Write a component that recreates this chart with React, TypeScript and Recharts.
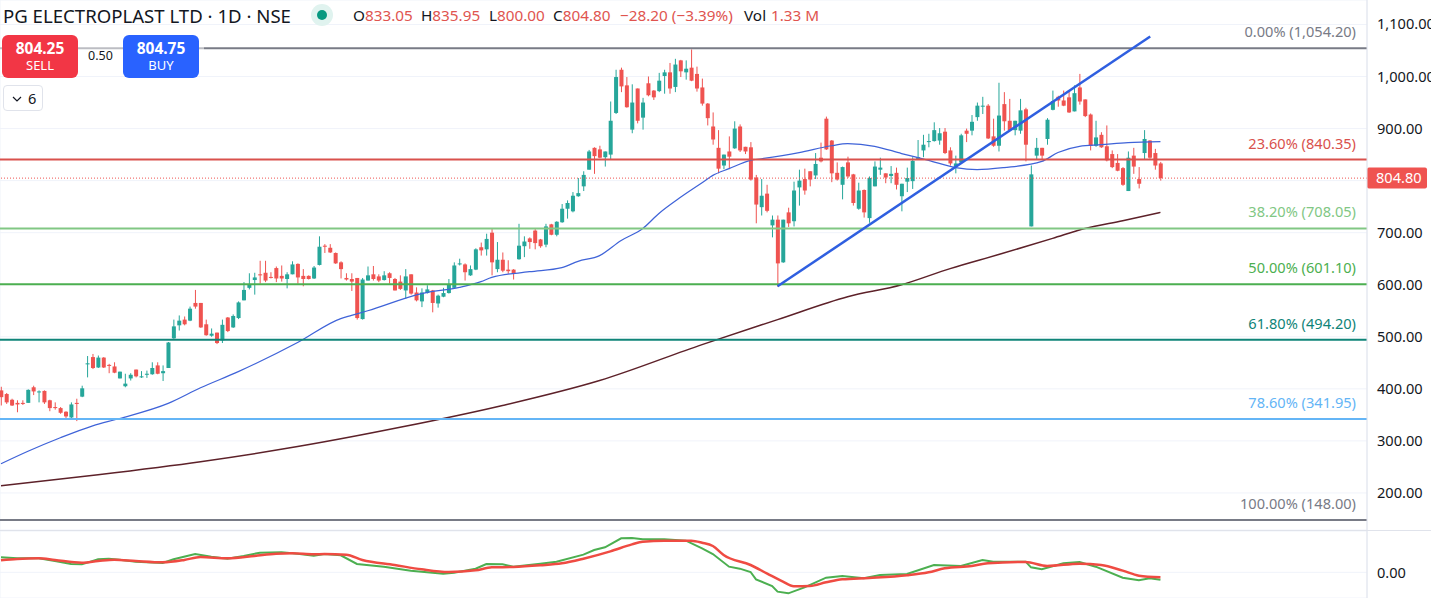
import { ComposedChart, Bar, Line, XAxis, YAxis, CartesianGrid, ReferenceLine } from 'recharts';

const opens = [
  397, 390, 379, 373, 373, 373, 403, 394, 396, 378,
  365, 363, 356, 345, 373, 385, 447, 461, 441, 460,
  446, 443, 420, 405, 420, 437, 422, 427, 428, 445,
  430, 440, 497, 522, 533, 531, 565, 565, 524, 502,
  508, 493, 537, 518, 536, 570, 594, 609, 620, 623,
  615, 632, 617, 611, 620, 640, 617, 617, 612, 638,
  675, 671, 661, 643, 613, 611, 613, 534, 608, 620,
  616, 609, 622, 611, 606, 589, 620, 585, 568, 584,
  589, 564, 577, 584, 594, 639, 639, 618, 629, 672,
  668, 700, 630, 648, 629, 629, 649, 674, 689, 704,
  687, 677, 716, 696, 720, 746, 741, 770, 789, 821,
  863, 860, 845, 850, 930, 1013, 983, 898, 977, 921,
  987, 973, 972, 1001, 1008, 980, 1031, 1008, 1017, 1005,
  979, 948, 904, 863, 829, 856, 862, 904, 865, 864,
  806, 749, 775, 714, 725, 643, 739, 722, 787, 803,
  818, 810, 844, 919, 877, 815, 792, 835, 812, 746,
  782, 728, 789, 821, 814, 809, 815, 770, 798, 799,
  841, 858, 874, 876, 877, 894, 858, 827, 835, 896,
  896, 922, 942, 944, 885, 867, 947, 915, 897, 896,
  937, 712, 848, 863, 880, 936, 961, 954, 960, 933,
  979, 956, 927, 867, 888, 866, 851, 834, 824, 780,
  848, 803, 853, 877, 853, 833.05,
];
const highs = [
  404, 392, 381, 378, 378, 399, 406, 397, 397, 379,
  374, 365, 357, 374, 381, 406, 463, 467, 464, 461,
  448, 451, 433, 429, 430, 437, 434, 435, 451, 451,
  445, 490, 533, 541, 539, 558, 590, 565, 533, 516,
  508, 533, 538, 543, 568, 605, 622, 623, 646, 646,
  624, 635, 637, 624, 645, 641, 630, 618, 636, 693,
  678, 678, 662, 645, 622, 622, 613, 613, 635, 636,
  620, 626, 624, 613, 618, 630, 620, 595, 593, 599,
  590, 581, 594, 611, 643, 650, 641, 637, 670, 681,
  698, 707, 682, 662, 647, 630, 717, 693, 691, 707,
  688, 717, 717, 722, 755, 762, 778, 805, 818, 859,
  864, 867, 856, 952, 1013, 1017, 999, 985, 977, 959,
  1000, 974, 1007, 1013, 1026, 1034, 1032, 1031, 1052, 1019,
  996, 949, 931, 897, 850, 885, 914, 908, 865, 874,
  811, 803, 792, 733, 733, 725, 748, 798, 821, 823,
  818, 853, 873, 923, 878, 835, 827, 846, 813, 796,
  783, 808, 837, 844, 814, 828, 825, 794, 825, 845,
  878, 888, 890, 912, 901, 901, 864, 848, 890, 900,
  926, 950, 961, 947, 919, 988, 970, 957, 915, 957,
  940, 829, 882, 863, 920, 973, 963, 973, 973, 983,
  1005, 956, 929, 915, 893, 906, 858, 851, 826, 856,
  863, 826, 897, 878, 861, 835.95,
];
const lows = [
  368, 371, 367, 355, 369, 373, 388, 374, 371, 357,
  360, 352, 344, 342, 338, 384, 422, 438, 440, 440,
  430, 430, 420, 403, 416, 422, 421, 421, 427, 428,
  415, 440, 496, 512, 522, 530, 554, 517, 502, 500,
  486, 488, 509, 517, 534, 570, 591, 581, 602, 605,
  612, 605, 606, 593, 620, 602, 597, 610, 611, 637,
  661, 661, 640, 612, 608, 588, 533, 533, 608, 608,
  605, 608, 602, 589, 590, 573, 581, 568, 557, 583,
  547, 556, 576, 583, 593, 637, 608, 617, 628, 656,
  656, 618, 624, 624, 621, 610, 648, 653, 669, 668,
  671, 672, 695, 693, 719, 727, 739, 769, 780, 821,
  813, 843, 827, 840, 928, 970, 940, 891, 910, 898,
  962, 955, 970, 967, 967, 970, 999, 994, 991, 971,
  944, 906, 869, 814, 822, 822, 861, 855, 851, 800,
  718, 733, 739, 691, 596, 642, 711, 712, 752, 773,
  789, 803, 835, 859, 797, 800, 764, 805, 752, 744,
  729, 719, 789, 811, 795, 795, 783, 741, 778, 784,
  840, 845, 864, 875, 869, 851, 829, 814, 834, 874,
  887, 915, 928, 880, 865, 856, 896, 896, 887, 890,
  837, 712, 840, 840, 869, 935, 942, 943, 930, 933,
  946, 922, 858, 865, 863, 837, 824, 818, 790, 780,
  813, 785, 840, 842, 821, 800,
];
const closes = [
  384, 374, 368, 370, 371, 398, 395, 395, 374, 363,
  363, 354, 347, 370, 371, 401, 449, 440, 460, 441,
  444, 431, 433, 410, 427, 424, 424, 429, 440, 429,
  434, 489, 520, 531, 524, 554, 558, 518, 503, 506,
  488, 523, 511, 540, 566, 590, 600, 614, 618, 608,
  614, 612, 612, 620, 639, 614, 611, 611, 633, 673,
  673, 662, 641, 630, 610, 606, 536, 610, 618, 611,
  608, 618, 613, 589, 592, 616, 583, 570, 585, 591,
  565, 579, 584, 600, 637, 641, 624, 630, 668, 666,
  688, 643, 648, 627, 626, 621, 675, 683, 682, 680,
  674, 712, 696, 721, 746, 757, 771, 776, 811, 856,
  847, 844, 856, 915, 999, 981, 941, 950, 915, 950,
  964, 960, 992, 1008, 977, 1023, 1010, 1015, 992, 977,
  948, 920, 879, 823, 850, 846, 900, 858, 856, 802,
  754, 771, 742, 725, 641, 725, 718, 781, 800, 781,
  802, 832, 837, 860, 814, 802, 826, 808, 757, 781,
  739, 805, 827, 825, 806, 813, 792, 794, 805, 838,
  845, 869, 876, 897, 891, 853, 833, 833, 887, 890,
  913, 944, 944, 881, 867, 925, 914, 897, 915, 935,
  869, 812, 863, 848, 917, 953, 954, 944, 931, 968,
  952, 924, 867, 883, 864, 839, 826, 819, 792, 844,
  827, 794, 880, 844, 829, 804.8,
];

// [bar index, value]
const ma50Points = [
  [0, 256], [5, 280], [11, 306], [17, 329], [22, 343], [31, 372], [37, 402], [44, 433],
  [55, 489], [63, 535], [65, 541], [68, 550], [78, 583], [85, 595], [89, 606], [91, 614],
  [98, 625], [104, 633], [107, 645], [111, 656], [115, 685], [119, 708], [122, 737], [126, 768],
  [130, 796], [132, 810], [135, 823], [139, 839], [141, 842], [148, 854], [154, 867], [157, 871],
  [162, 866], [167, 852], [172, 839], [177, 825], [181, 821], [186, 825], [193, 837], [196, 854],
  [200, 866], [204, 869], [209, 873], [215, 875],
];
const ma200Points = [
  [0, 214], [18, 235], [37, 260], [55, 289], [74, 326], [93, 368], [111, 416], [130, 485],
  [144, 533], [157, 577], [167, 600], [176, 631], [185, 658], [195, 689], [201, 708], [208, 723],
  [215, 739],
];
const fastPoints = [
  [0, 45], [3, 42], [7, 42], [10, 34], [13, 25], [15, 24], [18, 39], [20, 41], [22, 38], [25, 32],
  [30, 28], [32, 39], [36, 55], [39, 47], [42, 41], [45, 49], [48, 59], [52, 60], [55, 56], [58, 50],
  [60, 55], [63, 51], [66, 25], [71, 17], [76, 5], [82, -4], [84, -1], [88, 11], [90, 25], [93, 24],
  [95, 17], [100, 26], [103, 32], [108, 53], [110, 67], [112, 75], [115, 102], [117, 103], [119, 99],
  [123, 99], [127, 95], [130, 72], [132, 55], [135, 17], [137, 11], [139, 1], [140, -21], [143, -41],
  [144, -58], [146, -63], [149, -45], [153, -16], [156, -11], [160, -18], [163, -8], [168, -5],
  [173, 22], [178, 19], [182, 37], [184, 32], [190, 32], [191, 15], [193, 9], [197, 27], [200, 31],
  [203, 17], [208, -16], [211, -24], [213, -18], [215, -22],
];
const slowPoints = [
  [0, 36], [3, 40], [7, 42], [10, 37], [15, 29], [18, 34], [21, 38], [25, 34], [30, 30], [34, 37],
  [37, 46], [42, 42], [47, 49], [51, 56], [54, 57], [58, 54], [60, 55], [64, 53], [67, 37], [73, 22],
  [78, 9], [83, 1], [88, 6], [91, 15], [95, 16], [100, 21], [104, 27], [108, 41], [113, 63], [117, 84],
  [119, 92], [123, 95], [128, 95], [130, 89], [132, 79], [134, 52], [139, 22], [142, -3], [145, -28],
  [147, -42], [150, -41], [153, -30], [156, -21], [161, -17], [168, -9], [172, 0], [175, 12], [180, 19],
  [183, 27], [190, 31], [194, 19], [200, 26], [204, 22], [208, 5], [211, -10], [215, -15],
];

const fibLevels = [
  { price: 1054.2, text: '0.00% (1,054.20)', color: '#787b86' },
  { price: 840.35, text: '23.60% (840.35)', color: '#d9514c' },
  { price: 708.05, text: '38.20% (708.05)', color: '#81c784' },
  { price: 601.1, text: '50.00% (601.10)', color: '#4caf50' },
  { price: 494.2, text: '61.80% (494.20)', color: '#0f8478' },
  { price: 341.95, text: '78.60% (341.95)', color: '#64b5f6' },
  { price: 148, text: '100.00% (148.00)', color: '#787b86' },
];

const priceTicks = [200, 300, 400, 500, 600, 700, 800, 900, 1000, 1100];
const gridBars = [21, 42, 63, 85, 104, 125, 148, 168, 187, 206, 227, 248];
const trendStart = { x: 144, y: 597 };
const trendEnd = { x: 213.1, y: 1077 };
const lastPrice = 804.8;

const UP = '#26a69a';
const DOWN = '#ef5350';
const FONT = '"Noto Sans", sans-serif';

const candleRows = opens.map((open, i) => ({
  i,
  open,
  high: highs[i],
  low: lows[i],
  close: closes[i],
  range: [lows[i], highs[i]],
  ma50: ma50Points.find((p) => p[0] === i)?.[1] ?? null,
  ma200: ma200Points.find((p) => p[0] === i)?.[1] ?? null,
}));

const oscRows = opens.map((_, i) => ({
  i,
  fast: fastPoints.find((p) => p[0] === i)?.[1] ?? null,
  slow: slowPoints.find((p) => p[0] === i)?.[1] ?? null,
}));

function Candle(props: any) {
  const { x, y, width, height, payload } = props;
  const { open, high, low, close } = payload;
  const color = close >= open ? UP : DOWN;
  const perUnit = height / (high - low);
  const top = y + (high - Math.max(open, close)) * perUnit;
  const bodyH = Math.max(Math.abs(open - close) * perUnit, 1);
  const cx = x + width / 2;
  return (
    <g>
      <line x1={cx} x2={cx} y1={y} y2={y + height} stroke={color} strokeWidth={1} />
      <rect x={x} y={top} width={width} height={bodyH} fill={color} />
    </g>
  );
}

// the 800 label sits behind the last-price tag in the original, so it is left out
function PriceTick(props: any) {
  const { y, payload } = props;
  if (payload.value === 800) return null;
  return (
    <text x={1377} y={y + 5} fill="#131722" fontSize={14.6} fontFamily={FONT}>
      {payload.value.toLocaleString('en-US', { minimumFractionDigits: 2 })}
    </text>
  );
}

function OscTick(props: any) {
  return (
    <text x={1377} y={props.y + 5.5} fill="#131722" fontSize={14.6} fontFamily={FONT}>
      {props.payload.value.toFixed(2)}
    </text>
  );
}

function PriceTag(props: any) {
  const { viewBox } = props;
  const tagX = viewBox.x + viewBox.width;
  return (
    <g>
      <rect x={tagX} y={viewBox.y - 10.5} width={60} height={21} rx={2} fill={DOWN} />
      <text x={tagX + 9} y={viewBox.y + 5} fill="#fff" fontSize={14.6} fontFamily={FONT}>
        804.80
      </text>
    </g>
  );
}

const xDomain = [-0.185, 253.3];

function Header() {
  const red = '#e0544f';
  const legend = { position: 'absolute', top: 5, fontSize: 15.3, lineHeight: '20px', whiteSpace: 'nowrap' } as const;
  return (
    <div style={{ position: 'absolute', left: 0, top: 0, width: 1367, height: 120, fontFamily: FONT, color: '#131722' }}>
      <div style={{ position: 'absolute', left: 0, top: 47, width: 204, height: 3, background: 'rgba(255,255,255,0.5)' }} />
      <div style={{ position: 'absolute', left: 3, top: 3, fontSize: 18.6, lineHeight: '26px', whiteSpace: 'nowrap' }}>
        PG ELECTROPLAST LTD · 1D · NSE
      </div>
      <div style={{ position: 'absolute', left: 311, top: 4, width: 22, height: 22, borderRadius: 11, background: '#e0f3ef' }} />
      <div style={{ position: 'absolute', left: 317, top: 10, width: 10, height: 10, borderRadius: 5, background: '#089981' }} />
      <div style={{ ...legend, left: 353 }}>O<span style={{ color: red }}>833.05</span></div>
      <div style={{ ...legend, left: 421 }}>H<span style={{ color: red }}>835.95</span></div>
      <div style={{ ...legend, left: 489 }}>L<span style={{ color: red }}>800.00</span></div>
      <div style={{ ...legend, left: 553 }}>C<span style={{ color: red }}>804.80</span></div>
      <div style={{ ...legend, left: 620, color: red }}>−28.20 (−3.39%)</div>
      <div style={{ ...legend, left: 744 }}>Vol</div>
      <div style={{ ...legend, left: 771, color: red }}>1.33 M</div>
      <div style={{ position: 'absolute', left: 2, top: 35, width: 76, height: 43, borderRadius: 6, background: '#f23645', color: '#fff', textAlign: 'center' }}>
        <div style={{ fontSize: 15.5, fontWeight: 700, lineHeight: '18px', marginTop: 4 }}>804.25</div>
        <div style={{ fontSize: 13, lineHeight: '17px' }}>SELL</div>
      </div>
      <div style={{ position: 'absolute', left: 88, top: 47, fontSize: 12.5, lineHeight: '18px' }}>0.50</div>
      <div style={{ position: 'absolute', left: 123, top: 35, width: 76, height: 43, borderRadius: 6, background: '#2962ff', color: '#fff', textAlign: 'center' }}>
        <div style={{ fontSize: 15.5, fontWeight: 700, lineHeight: '18px', marginTop: 4 }}>804.75</div>
        <div style={{ fontSize: 13, lineHeight: '17px' }}>BUY</div>
      </div>
      <div style={{ position: 'absolute', left: 3, top: 85, width: 38, height: 24, border: '1px solid #e0e3eb', borderRadius: 4, background: '#fff', fontSize: 14.6, lineHeight: '24px' }}>
        <svg width="10" height="6" style={{ position: 'absolute', left: 8, top: 10 }}>
          <path d="M1 1 L5 5 L9 1" fill="none" stroke="#131722" strokeWidth={1.2} />
        </svg>
        <span style={{ position: 'absolute', left: 24 }}>6</span>
      </div>
    </div>
  );
}

export default function App() {
  return (
    <div style={{ position: 'absolute', left: 0, top: 0, width: 1431, height: 598, overflow: 'hidden', background: '#fff' }}>
      <div style={{ position: 'absolute', left: 0, top: 0 }}>
        <ComposedChart width={1431} height={530} data={candleRows} margin={{ top: 0, right: 0, bottom: 0, left: 0 }}>
          <CartesianGrid stroke="#f0f3fa" />
          <XAxis dataKey="i" type="number" domain={xDomain} ticks={gridBars} tick={false} tickLine={false} axisLine={false} height={0} allowDataOverflow />
          <YAxis
            orientation="right"
            width={64}
            domain={[128.8, 1147]}
            allowDataOverflow
            ticks={priceTicks}
            tick={PriceTick}
            tickLine={false}
            axisLine={{ stroke: '#e0e3eb' }}
          />
          <Bar dataKey="range" barSize={4} shape={Candle} isAnimationActive={false} />
          <Line type="monotone" dataKey="ma200" stroke="#5d2129" strokeWidth={1.5} dot={false} connectNulls isAnimationActive={false} />
          <Line type="monotone" dataKey="ma50" stroke="#3f63d8" strokeWidth={1.25} dot={false} connectNulls isAnimationActive={false} />
          <ReferenceLine y={lastPrice} stroke={DOWN} strokeDasharray="1 2" label={PriceTag} />
          {fibLevels.map((f) => (
            <ReferenceLine
              key={f.text}
              y={f.price}
              stroke={f.color}
              strokeWidth={2}
              label={{ value: f.text, position: 'insideBottomRight', fill: f.color, fontSize: 14.6, fontFamily: FONT, offset: 11 }}
            />
          ))}
          <ReferenceLine segment={[trendStart, trendEnd]} stroke="#2f5fe0" strokeWidth={2.5} />
        </ComposedChart>
      </div>
      <div style={{ position: 'absolute', left: 0, top: 530, width: 1431, height: 1, background: '#e0e3eb' }} />
      <div style={{ position: 'absolute', left: 0, top: 531 }}>
        <ComposedChart width={1431} height={67} data={oscRows} margin={{ top: 0, right: 0, bottom: 0, left: 0 }}>
          <CartesianGrid stroke="#f0f3fa" />
          <XAxis dataKey="i" type="number" domain={xDomain} ticks={gridBars} tick={false} tickLine={false} axisLine={false} height={0} allowDataOverflow />
          <YAxis
            orientation="right"
            width={64}
            domain={[-77, 124]}
            allowDataOverflow
            ticks={[0]}
            tick={OscTick}
            tickLine={false}
            axisLine={{ stroke: '#e0e3eb' }}
          />
          <Line dataKey="fast" stroke="#4caf50" strokeWidth={2} dot={false} connectNulls isAnimationActive={false} />
          <Line type="monotone" dataKey="slow" stroke="#ef4b42" strokeWidth={2.5} dot={false} connectNulls isAnimationActive={false} />
        </ComposedChart>
      </div>
      <Header />
    </div>
  );
}
